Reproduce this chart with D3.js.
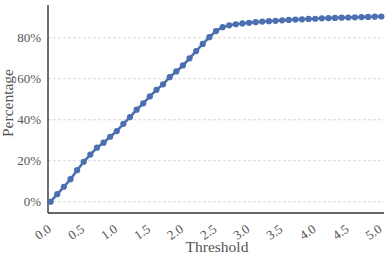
<!DOCTYPE html>
<html><head><meta charset="utf-8">
<script src="https://cdn.jsdelivr.net/npm/d3@7"></script>
<style>html,body{margin:0;padding:0;background:#fff;}</style>
</head><body>
<svg id="c" width="391" height="258"></svg>
<script>
const thresholds = d3.range(0, 51).map(i => +(i / 10).toFixed(1));
const percentages = [
  0, 3.7, 7.3, 11, 15.4, 19.5, 23, 26.4, 28.8, 31.7,
  34.5, 38, 41.3, 44.9, 48, 51.4, 54.6, 57.3, 60.8, 63.6,
  66.5, 70, 73.5, 77, 80.3, 83.3, 85.2, 86.1, 86.6, 87.0,
  87.3, 87.6, 87.9, 88.1, 88.3, 88.5, 88.7, 88.9, 89.0, 89.2,
  89.3, 89.5, 89.6, 89.7, 89.8, 89.9, 90.0, 90.1, 90.2, 90.3, 90.4
];
const xTicks = [0, 0.5, 1, 1.5, 2, 2.5, 3, 3.5, 4, 4.5, 5];
const yTicks = [0, 20, 40, 60, 80];

(function () {
const svg = d3.select("#c");
const mL = 48, mR = 384, mT = 5, mB = 213;
const x = d3.scaleLinear().domain([-0.04, 5.04]).range([mL, mR]);
const y = d3.scaleLinear().domain([-5.5, 96]).range([mB, mT]);
const font = "'Liberation Serif', 'DejaVu Serif', serif";
const textColor = "#555";

svg.append("g").selectAll("line").data(yTicks).join("line")
  .attr("x1", mL).attr("x2", mR)
  .attr("y1", d => y(d)).attr("y2", d => y(d))
  .attr("stroke", "#cfcfcf").attr("stroke-width", 0.8)
  .attr("stroke-dasharray", "3,2");

const ya = svg.append("g").attr("transform", `translate(${mL},0)`)
  .call(d3.axisLeft(y).tickValues(yTicks).tickSize(0).tickPadding(7).tickFormat(d => d + "%"));
ya.select(".domain").remove();
ya.selectAll("text").attr("font-family", font).attr("font-size", 13).attr("fill", textColor);

const xa = svg.append("g").attr("transform", `translate(0,${mB})`)
  .call(d3.axisBottom(x).tickValues(xTicks).tickSize(0).tickFormat(d3.format(".1f")));
xa.select(".domain").remove();
xa.selectAll("text")
  .attr("font-family", font).attr("font-size", 13).attr("fill", textColor)
  .attr("text-anchor", "end").attr("dy", null).attr("y", 0)
  .attr("transform", "translate(1,18) rotate(-35)");

svg.append("line").attr("x1", mL).attr("x2", mL).attr("y1", mT).attr("y2", mB)
  .attr("stroke", "#333").attr("stroke-width", 1.4);
svg.append("line").attr("x1", mL).attr("x2", mR).attr("y1", mB).attr("y2", mB)
  .attr("stroke", "#333").attr("stroke-width", 1.4);

const data = thresholds.map((t, i) => ({t, v: percentages[i]}));
const color = "#4c6fb0";
svg.append("path").datum(data)
  .attr("fill", "none").attr("stroke", color).attr("stroke-width", 2.6)
  .attr("d", d3.line().x(d => x(d.t)).y(d => y(d.v)));
svg.append("g").selectAll("circle").data(data).join("circle")
  .attr("cx", d => x(d.t)).attr("cy", d => y(d.v)).attr("r", 3.1).attr("fill", color);

svg.append("text").attr("x", 217).attr("y", 252)
  .attr("text-anchor", "middle").attr("font-family", font).attr("font-size", 15.5)
  .attr("fill", textColor).text("Threshold");
svg.append("text").attr("transform", `translate(13,103) rotate(-90)`)
  .attr("text-anchor", "middle").attr("font-family", font).attr("font-size", 15.5)
  .attr("fill", textColor).text("Percentage");
})();
</script>
</body></html>
